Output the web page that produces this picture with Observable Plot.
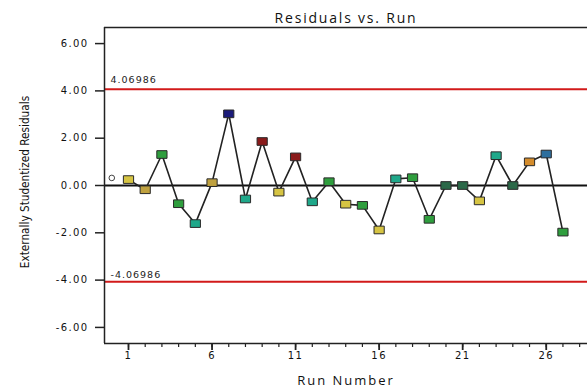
<!DOCTYPE html>
<html><head><meta charset="utf-8">
<script src="https://cdn.jsdelivr.net/npm/d3@7"></script>
<script src="https://cdn.jsdelivr.net/npm/@observablehq/plot@0.6"></script>
<style>
html,body{margin:0;padding:0;background:#fff;overflow:hidden;}
#chart svg{display:block;background:linear-gradient(#e7e7e7,#e7e7e7) 10px 7px/100% 100% no-repeat, #fff;}
g[aria-label="y-axis tick label"] text{letter-spacing:1.4px;font-family:"DejaVu Sans",sans-serif;}
g[aria-label="x-axis tick label"] text{letter-spacing:1.4px;font-family:"DejaVu Sans",sans-serif;}
</style></head><body><div id="chart"></div>
<script>
const runs = [1,2,3,4,5,6,7,8,9,10,11,12,13,14,15,16,17,18,19,20,21,22,23,24,25,26,27];
const residuals = [0.25,-0.18,1.31,-0.77,-1.61,0.12,3.03,-0.57,1.86,-0.28,1.21,-0.69,0.16,-0.79,-0.84,-1.88,0.28,0.33,-1.43,0.0,0.0,-0.65,1.26,0.0,1.0,1.33,-1.97];
const groups = ["g1","g2","g3","g3","g4","g2","g5","g4","g6","g1","g6","g4","g3","g1","g3","g1","g4","g3","g3","g7","g7","g1","g4","g7","g8","g9","g3"];
const groupDomain = ["g1","g2","g3","g4","g5","g6","g7","g8","g9"];
const groupColors = ["#d6c443","#bfa13f","#2f9e3e","#1fa88a","#1b1b7a","#8a1a1a","#2b6848","#d48c2c","#2e6f9e"];
const extraRun = [0];
const extraValue = [0.32];
const limits = [4.06986, -4.06986];
const limitLabels = ["4.06986", "-4.06986"];
const yTicks = [6, 4, 2, 0, -2, -4, -6];
const xTicks = [1, 6, 11, 16, 21, 26];
const xMinorTicks = [1,2,3,4,5,6,7,8,9,10,11,12,13,14,15,16,17,18,19,20,21,22,23,24,25,26,27,28];
const title = "Residuals vs. Run";
const xLabel = "Run Number";
const yLabel = "Externally Studentized Residuals";

const data = runs.map((r, i) => ({run: r, value: residuals[i], group: groups[i]}));
const extra = extraRun.map((r, i) => ({run: r, value: extraValue[i]}));
const xDom = [-0.436, 28.47];
const yDom = [-6.68, 6.68];

// wide rectangular marker symbol
const wideSquare = {
  draw(context, size) {
    const s = Math.sqrt(size);
    const w = s * 0.64, h = s * 0.48;
    context.moveTo(-w, -h);
    context.lineTo(w, -h);
    context.lineTo(w, h);
    context.lineTo(-w, h);
    context.closePath();
  }
};

const chart = Plot.plot({
  width: 587,
  height: 389,
  marginLeft: 104,
  marginRight: 0,
  marginTop: 27,
  marginBottom: 46,
  x: {domain: xDom},
  y: {domain: yDom},
  color: {domain: groupDomain, range: groupColors},
  style: {fontFamily: "'Open Sans', sans-serif", color: "#111", background: "transparent"},
  marks: [
    Plot.ruleY(limits, {stroke: "#d21a1a", strokeWidth: 2}),
    Plot.text([limitLabels[0]], {x: xDom[0], y: [limits[0]], text: d => d, dx: 6, dy: -9, textAnchor: "start", fontSize: 9.5, fill: "#222", fontFamily: "DejaVu Sans"}),
    Plot.text([limitLabels[1]], {x: xDom[0], y: [limits[1]], text: d => d, dx: 6, dy: -7, textAnchor: "start", fontSize: 9.5, fill: "#222", fontFamily: "DejaVu Sans"}),
    Plot.ruleY([0], {stroke: "#111", strokeWidth: 2}),
    Plot.ruleX([xDom[0]], {stroke: "#222", strokeWidth: 1.5}),
    Plot.ruleY([yDom[0], yDom[1]], {stroke: "#222", strokeWidth: 1.5}),
    Plot.axisY(yTicks, {tickSize: 9, tickPadding: 7, tickFormat: d => d.toFixed(2), fontSize: 10, label: null, strokeWidth: 1.5, stroke: "#222"}),
    Plot.axisX(xMinorTicks, {tickSize: 4, tickFormat: () => "", label: null, strokeWidth: 1.2, stroke: "#222"}),
    Plot.axisX(xTicks, {tickSize: 7, tickPadding: 1, label: null, fontSize: 10, strokeWidth: 1.8, stroke: "#222"}),
    Plot.line(data, {x: "run", y: "value", stroke: "#222", strokeWidth: 1.6}),
    Plot.dot(data, {x: "run", y: "value", symbol: wideSquare, r: 4.5, fill: "group", stroke: "#2a2a2a", strokeWidth: 1}),
    Plot.dot(extra, {x: "run", y: "value", r: 2.8, fill: "none", stroke: "#444", strokeWidth: 1}),
    Plot.text([title], {frameAnchor: "top", lineAnchor: "bottom", dy: -5, fontSize: 14, fill: "#111", fontFamily: "'Open Sans'"}),
    Plot.text([xLabel], {frameAnchor: "bottom", dy: 41, fontSize: 13, fill: "#111", fontFamily: "'Open Sans'"}),
    Plot.text([yLabel], {frameAnchor: "left", textAnchor: "middle", dx: -79, dy: -3.5, rotate: -90, fontSize: 11.7, fill: "#111", fontFamily: "'Liberation Sans Narrow', 'DejaVu Sans Condensed', sans-serif"})
  ]
});
d3.select(chart).selectAll("text").filter(function(){ return this.textContent === title; }).style("letter-spacing", "1.8px");
d3.select(chart).selectAll("text").filter(function(){ return this.textContent === xLabel; }).style("letter-spacing", "2px");
d3.select(chart).selectAll("text").filter(function(){ return limitLabels.includes(this.textContent); }).style("letter-spacing", "1px");
document.getElementById("chart").appendChild(chart);
</script></body></html>
